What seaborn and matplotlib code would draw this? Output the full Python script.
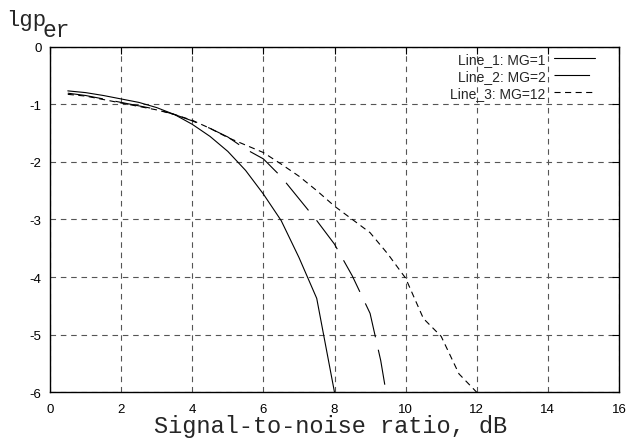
import matplotlib
matplotlib.use("Agg")
import matplotlib.pyplot as plt
import seaborn as sns
import pandas as pd

# data
x_line1 = [0.5, 1, 1.5, 2, 2.5, 3, 3.5, 4, 4.5, 5, 5.5, 6, 6.5, 7, 7.5, 8]
y_line1 = [-0.77, -0.80, -0.85, -0.91, -0.97, -1.06, -1.18, -1.35, -1.56, -1.82,
           -2.15, -2.56, -3.02, -3.66, -4.37, -6.0]

x_line2 = [0.5, 1, 1.5, 2, 2.5, 3, 3.5, 4, 4.5, 5, 5.5, 6, 6.5, 7, 7.5, 8, 8.5,
           9, 9.3, 9.45]
y_line2 = [-0.81, -0.85, -0.91, -0.97, -1.03, -1.09, -1.18, -1.29, -1.42, -1.57,
           -1.78, -1.95, -2.26, -2.64, -3.02, -3.43, -3.98, -4.63, -5.45, -6.0]

x_line3 = [0.5, 1, 1.5, 2, 2.5, 3, 3.5, 4, 4.5, 5, 5.5, 6, 6.5, 7, 7.5, 8, 8.5,
           9, 9.5, 10, 10.5, 11, 11.5, 12]
y_line3 = [-0.83, -0.86, -0.92, -0.98, -1.04, -1.10, -1.18, -1.28, -1.42, -1.58,
           -1.71, -1.84, -2.04, -2.25, -2.50, -2.77, -3.0, -3.23, -3.60, -4.02,
           -4.72, -5.03, -5.68, -6.0]

labels = ["Line_1: MG=1", "Line_2: MG=2", "Line_3: MG=12"]
x_ticks = list(range(0, 17, 2))
y_ticks = list(range(-6, 1))

sns.set_style("white")
plt.rcParams["font.family"] = ["Liberation Sans", "DejaVu Sans"]
plt.rcParams["axes.unicode_minus"] = False

W, H = 629, 439
fig = plt.figure(figsize=(W / 100, H / 100), dpi=100)
ax = fig.add_axes([50 / W, 1 - 393.3 / H, 569 / W, 345.8 / H])

series = [
    (x_line1, y_line1, "-"),
    (x_line2, y_line2, (0, (32, 11.5))),
    (x_line3, y_line3, (0, (5.5, 4))),
]
for (xs, ys, ls), lab in zip(series, labels):
    df = pd.DataFrame({"snr": xs, "lgp": ys})
    sns.lineplot(data=df, x="snr", y="lgp", ax=ax, color="black", lw=0.8,
                 linestyle=ls, label=lab)

ax.set_xlim(0, 16)
ax.set_ylim(-6, 0)
ax.set_xticks(x_ticks)
ax.set_yticks(y_ticks)
ax.set_xlabel("")
ax.set_ylabel("")
ax.grid(True, linestyle=(0, (5, 4.3)), color="#555555", linewidth=0.8)
ax.tick_params(direction="in", length=5, width=0.8, top=True, right=True,
               labelsize=9.5, colors="black")
ax.tick_params(axis="x", pad=8)
ax.tick_params(axis="y", pad=6)
for sp in ax.spines.values():
    sp.set_color("black")
    sp.set_linewidth(1.0)

ax.legend(loc="upper right", bbox_to_anchor=(0.9696, 1.005), frameon=False,
          markerfirst=False, borderpad=0, labelspacing=0.22, handlelength=2.9,
          handletextpad=0.65, fontsize=10)

mono = ["Liberation Mono", "DejaVu Sans Mono"]
fig.text(6 / W, 1 - 26 / H, "lgp", family=mono, fontsize=16, va="baseline")
fig.text(42 / W, 1 - 36.7 / H, "er", family=mono, fontsize=16.5, va="baseline")
fig.text(331 / W, 1 - 433 / H, "Signal-to-noise ratio, dB", family=mono,
         fontsize=17, ha="center", va="baseline")

fig.savefig("out.png", dpi=100)
